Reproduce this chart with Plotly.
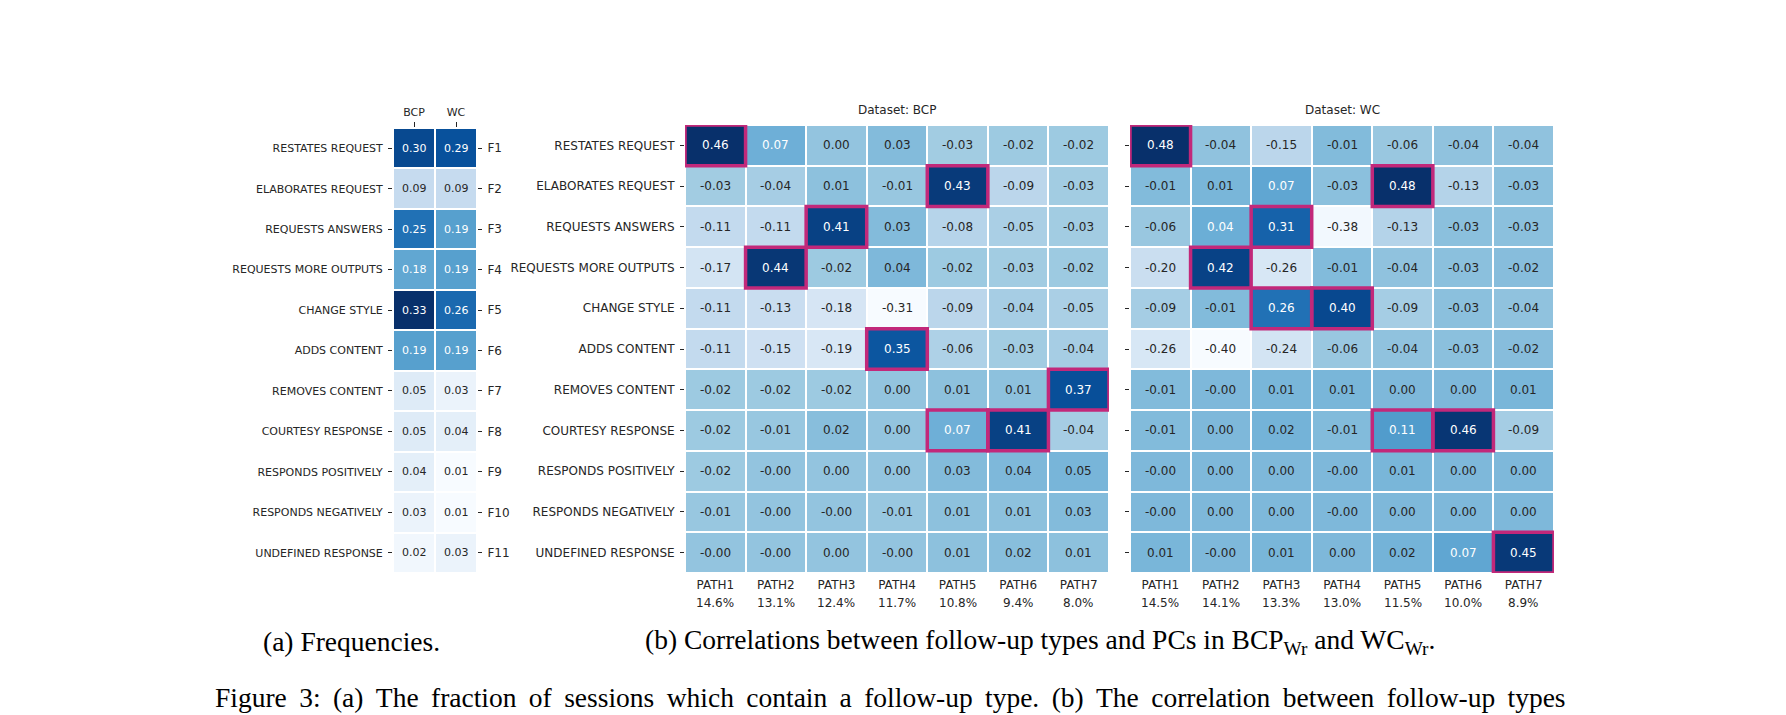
import plotly.graph_objects as go

# ---------------- data ----------------
follow_up_types = ["RESTATES REQUEST", "ELABORATES REQUEST", "REQUESTS ANSWERS",
                   "REQUESTS MORE OUTPUTS", "CHANGE STYLE", "ADDS CONTENT",
                   "REMOVES CONTENT", "COURTESY RESPONSE", "RESPONDS POSITIVELY",
                   "RESPONDS NEGATIVELY", "UNDEFINED RESPONSE"]
feature_codes = ["F1", "F2", "F3", "F4", "F5", "F6", "F7", "F8", "F9", "F10", "F11"]
freq_datasets = ["BCP", "WC"]
freq_bcp = [0.30, 0.09, 0.25, 0.18, 0.33, 0.19, 0.05, 0.05, 0.04, 0.03, 0.02]
freq_wc = [0.29, 0.09, 0.19, 0.19, 0.26, 0.19, 0.03, 0.04, 0.01, 0.01, 0.03]

paths = ["PATH1", "PATH2", "PATH3", "PATH4", "PATH5", "PATH6", "PATH7"]
bcp_var = ["14.6%", "13.1%", "12.4%", "11.7%", "10.8%", "9.4%", "8.0%"]
wc_var = ["14.5%", "14.1%", "13.3%", "13.0%", "11.5%", "10.0%", "8.9%"]

corr_bcp = [
    [0.46, 0.07, 0.00, 0.03, -0.03, -0.02, -0.02],
    [-0.03, -0.04, 0.01, -0.01, 0.43, -0.09, -0.03],
    [-0.11, -0.11, 0.41, 0.03, -0.08, -0.05, -0.03],
    [-0.17, 0.44, -0.02, 0.04, -0.02, -0.03, -0.02],
    [-0.11, -0.13, -0.18, -0.31, -0.09, -0.04, -0.05],
    [-0.11, -0.15, -0.19, 0.35, -0.06, -0.03, -0.04],
    [-0.02, -0.02, -0.02, 0.00, 0.01, 0.01, 0.37],
    [-0.02, -0.01, 0.02, 0.00, 0.07, 0.41, -0.04],
    [-0.02, -0.0, 0.00, 0.00, 0.03, 0.04, 0.05],
    [-0.01, -0.0, -0.0, -0.01, 0.01, 0.01, 0.03],
    [-0.0, -0.0, 0.00, -0.0, 0.01, 0.02, 0.01],
]
corr_wc = [
    [0.48, -0.04, -0.15, -0.01, -0.06, -0.04, -0.04],
    [-0.01, 0.01, 0.07, -0.03, 0.48, -0.13, -0.03],
    [-0.06, 0.04, 0.31, -0.38, -0.13, -0.03, -0.03],
    [-0.20, 0.42, -0.26, -0.01, -0.04, -0.03, -0.02],
    [-0.09, -0.01, 0.26, 0.40, -0.09, -0.03, -0.04],
    [-0.26, -0.40, -0.24, -0.06, -0.04, -0.03, -0.02],
    [-0.01, -0.0, 0.01, 0.01, 0.00, 0.00, 0.01],
    [-0.01, 0.00, 0.02, -0.01, 0.11, 0.46, -0.09],
    [-0.0, 0.00, 0.00, -0.0, 0.01, 0.00, 0.00],
    [-0.0, 0.00, 0.00, -0.0, 0.00, 0.00, 0.00],
    [0.01, -0.0, 0.01, 0.00, 0.02, 0.07, 0.45],
]
# highlighted (row, column) cells
highlight_bcp = [(0, 0), (3, 1), (2, 2), (5, 3), (1, 4), (7, 4), (7, 5), (6, 6)]
highlight_wc = [(0, 0), (3, 1), (2, 2), (4, 2), (4, 3), (1, 4), (7, 4), (7, 5), (10, 6)]

caption_a = "(a) Frequencies."
caption_b = ("(b) Correlations between follow-up types and PCs in "
             "BCP<sub>Wr</sub> and WC<sub>Wr</sub>.")
caption_fig = ("Figure 3: (a) The fraction of sessions which contain a follow-up type. "
               "(b) The correlation between follow-up types")

# ---------------- styling ----------------
W, H = 1786, 715
BLUES = ["#f7fbff", "#deebf7", "#c6dbef", "#9ecae1", "#6baed6",
         "#4292c6", "#2171b5", "#08519c", "#08306b"]
colorscale = [[i / 8, c] for i, c in enumerate(BLUES)]
TICK_FONT = "DejaVu Sans"
TXT = "#262626"
PINK = "#c2287a"
SERIF = "Liberation Serif"


def hex2rgb(h):
    return [int(h[i:i + 2], 16) for i in (1, 3, 5)]


def blues(t):
    t = min(max(t, 0.0), 1.0)
    pos = t * 8
    i = min(int(pos), 7)
    f = pos - i
    a, b = hex2rgb(BLUES[i]), hex2rgb(BLUES[i + 1])
    return [a[k] + (b[k] - a[k]) * f for k in range(3)]


def lum(rgb):
    out = []
    for c in rgb:
        c = c / 255
        out.append(c / 12.92 if c <= 0.03928 else ((c + 0.055) / 1.055) ** 2.4)
    return 0.2126 * out[0] + 0.7152 * out[1] + 0.0722 * out[2]


def text_color(v, vmin, vmax):
    return TXT if lum(blues((v - vmin) / (vmax - vmin))) > 0.408 else "white"


def px_x(p):
    return p / W


def px_y(p):
    return 1 - p / H


fig = go.Figure()
annotations = []
shapes = []

# ---------- (a) frequency heatmap ----------
freq_z = [[freq_bcp[i], freq_wc[i]] for i in range(len(follow_up_types))]
fmin = min(min(freq_bcp), min(freq_wc))
fmax = max(max(freq_bcp), max(freq_wc))
fig.add_trace(go.Heatmap(z=freq_z, x=[0, 1], y=list(range(len(follow_up_types))),
                         colorscale=colorscale, zmin=fmin, zmax=fmax, showscale=False,
                         xgap=2, ygap=2, xaxis="x", yaxis="y", hoverinfo="skip"))
for i, row in enumerate(freq_z):
    for j, v in enumerate(row):
        annotations.append(dict(x=j, y=i, xref="x", yref="y", text=f"{v:.2f}",
                                showarrow=False, xanchor="center", yanchor="middle",
                                font=dict(family=TICK_FONT, size=11,
                                          color=text_color(v, fmin, fmax))))
# invisible trace for the right-hand feature axis
fig.add_trace(go.Scatter(x=[0], y=[0], xaxis="x", yaxis="y4", mode="markers",
                         marker=dict(opacity=0), showlegend=False, hoverinfo="skip"))


def corr_panel(z, xa, ya, highlights):
    vmin = min(min(r) for r in z)
    vmax = max(max(r) for r in z)
    fig.add_trace(go.Heatmap(z=z, x=list(range(len(paths))),
                             y=list(range(len(follow_up_types))),
                             colorscale=colorscale, zmin=vmin, zmax=vmax,
                             showscale=False, xgap=2, ygap=2,
                             xaxis=xa, yaxis=ya, hoverinfo="skip"))
    for i, row in enumerate(z):
        for j, v in enumerate(row):
            annotations.append(dict(x=j, y=i, xref=xa, yref=ya, text=f"{v:.2f}",
                                    showarrow=False, xanchor="center", yanchor="middle",
                                    font=dict(family=TICK_FONT, size=12,
                                              color=text_color(v, vmin, vmax))))
    for (i, j) in highlights:
        shapes.append(dict(type="rect", xref=xa, yref=ya,
                           x0=j - 0.5, x1=j + 0.5, y0=i - 0.5, y1=i + 0.5,
                           line=dict(color=PINK, width=3.5), layer="above"))


corr_panel(corr_bcp, "x2", "y2", highlight_bcp)
corr_panel(corr_wc, "x3", "y3", highlight_wc)

# percent-of-variance labels under the PATH ticks
for xa, labels in (("x2", bcp_var), ("x3", wc_var)):
    for j, lab in enumerate(labels):
        annotations.append(dict(x=j, y=px_y(603), xref=xa, yref="paper", text=lab,
                                showarrow=False, xanchor="center", yanchor="middle",
                                font=dict(family=TICK_FONT, size=12, color=TXT)))

# panel titles
for title, (l, r) in (("Dataset: BCP", (685, 1109)), ("Dataset: WC", (1130, 1554))):
    annotations.append(dict(x=0.5 * (l + r) / W, y=px_y(110), xref="paper", yref="paper",
                            text=title, showarrow=False, xanchor="center",
                            yanchor="middle",
                            font=dict(family=TICK_FONT, size=12, color=TXT)))

# captions
annotations.append(dict(x=px_x(351), y=px_y(641), xref="paper", yref="paper",
                        text=caption_a, showarrow=False, xanchor="center",
                        yanchor="middle",
                        font=dict(family=SERIF, size=27.5, color="black")))
annotations.append(dict(x=px_x(643), y=px_y(641), xref="paper", yref="paper",
                        xanchor="left", yanchor="middle", text=caption_b,
                        showarrow=False, font=dict(family=SERIF, size=27.5, color="black")))
annotations.append(dict(x=px_x(213), y=px_y(697), xref="paper", yref="paper",
                        xanchor="left", yanchor="middle",
                        text=caption_fig.replace(" ", " \u2009"),
                        showarrow=False, font=dict(family=SERIF, size=27.5, color="black")))

n = len(follow_up_types)
yrange = [n - 0.5, -0.5]
ydom = [px_y(573), px_y(125)]
tickfont = dict(family=TICK_FONT, size=12, color=TXT)

fig.update_layout(
    width=W, height=H, margin=dict(l=0, r=0, t=0, b=0),
    paper_bgcolor="white", plot_bgcolor="white",
    showlegend=False,
    annotations=annotations, shapes=shapes,
    xaxis=dict(domain=[px_x(393), px_x(477)], range=[-0.5, 1.5], side="top",
               tickvals=[0, 1], ticktext=freq_datasets, ticks="outside", ticklen=5,
               tickcolor=TXT, showgrid=False, zeroline=False, showline=False,
               ticklabelstandoff=2,
               tickfont=dict(family=TICK_FONT, size=11, color=TXT), anchor="y"),
    yaxis=dict(domain=[px_y(573), px_y(128)], range=yrange, tickvals=list(range(n)),
               ticktext=follow_up_types, ticks="outside", ticklen=4, tickcolor=TXT,
               showgrid=False, zeroline=False, showline=False, ticklabelstandoff=3,
               tickfont=dict(family=TICK_FONT, size=11, color=TXT), anchor="x"),
    yaxis4=dict(overlaying="y", side="right", anchor="x", range=yrange,
                tickvals=list(range(n)), ticktext=feature_codes, ticks="outside",
                ticklen=4, tickcolor=TXT, showgrid=False, zeroline=False,
                showline=False, tickfont=tickfont, ticklabelstandoff=3),
    xaxis2=dict(domain=[px_x(685), px_x(1109)], range=[-0.5, 6.5],
                tickvals=list(range(len(paths))), ticktext=paths, ticks="",
                showgrid=False, zeroline=False, showline=False, tickfont=tickfont,
                ticklabelstandoff=3, anchor="y2"),
    yaxis2=dict(domain=ydom, range=yrange, tickvals=list(range(n)),
                ticktext=follow_up_types, ticks="outside", ticklen=4, tickcolor=TXT,
                showgrid=False, zeroline=False, showline=False, tickfont=tickfont,
                ticklabelstandoff=3, anchor="x2"),
    xaxis3=dict(domain=[px_x(1130), px_x(1554)], range=[-0.5, 6.5],
                tickvals=list(range(len(paths))), ticktext=paths, ticks="",
                showgrid=False, zeroline=False, showline=False, tickfont=tickfont,
                ticklabelstandoff=3, anchor="y3"),
    yaxis3=dict(domain=ydom, range=yrange, tickvals=list(range(n)),
                showticklabels=False, ticks="outside", ticklen=4, tickcolor=TXT,
                showgrid=False, zeroline=False, showline=False, anchor="x3"),
)

fig.write_html("out.html")
